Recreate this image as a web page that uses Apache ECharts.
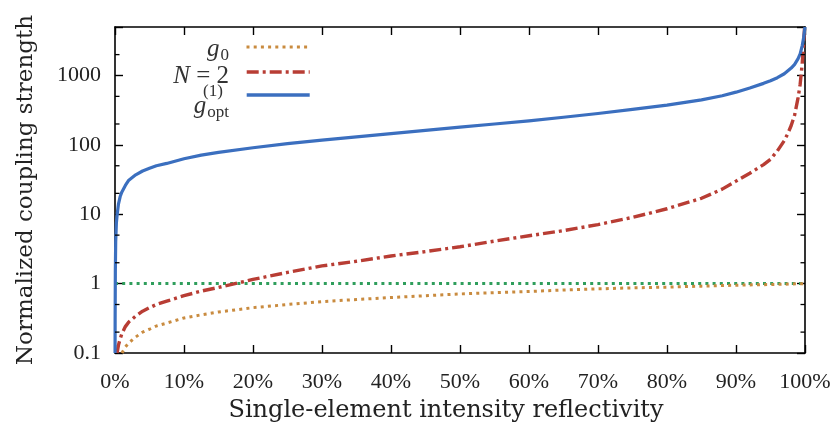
<!DOCTYPE html>
<html>
<head>
<meta charset="utf-8">
<script src="https://cdn.jsdelivr.net/npm/echarts@6/dist/echarts.min.js"></script>
<style>
html,body{margin:0;padding:0;background:#fff;}
#c{width:834px;height:428px;}
</style>
</head>
<body>
<div id="c"></div>
<script>
// ---- data (x in %, y normalized coupling strength) ----
var xG0   = [1, 1.5, 2, 3, 4, 5, 6, 7.5, 10, 12.5, 15, 20, 25, 30, 35, 40, 45, 50, 55, 60, 65, 70, 75, 80, 85, 90, 95, 100];
var yG0   = [0.10, 0.122, 0.14, 0.17, 0.20, 0.22, 0.245, 0.27, 0.32, 0.355, 0.39, 0.45, 0.50, 0.55, 0.59, 0.63, 0.67, 0.71, 0.74, 0.77, 0.81, 0.84, 0.87, 0.89, 0.92, 0.95, 0.97, 1.0];

var xN2   = [0.3, 0.5, 0.75, 1, 1.5, 2, 3, 4, 5, 6, 7.5, 10, 12.5, 15, 20, 25, 30, 35, 40, 45, 50, 55, 60, 65, 70, 75, 80, 85, 88, 90, 92, 93, 94, 95, 96, 97, 97.5, 98, 98.5, 99, 99.3, 99.6, 99.8, 100];
var yN2   = [0.10, 0.13, 0.16, 0.19, 0.24, 0.28, 0.34, 0.40, 0.45, 0.50, 0.56, 0.67, 0.78, 0.88, 1.15, 1.45, 1.8, 2.1, 2.5, 2.9, 3.4, 4.1, 4.9, 5.8, 7.1, 9.0, 12, 17, 23, 30, 39, 45, 52, 62, 82, 115, 145, 190, 270, 480, 750, 1500, 3000, 6000];

var xOpt  = [0.01, 0.02, 0.05, 0.1, 0.2, 0.3, 0.5, 0.75, 1, 1.5, 2, 3, 4, 5, 6, 7.5, 10, 12.5, 15, 20, 25, 30, 35, 40, 45, 50, 55, 60, 65, 70, 75, 80, 85, 88, 90, 92, 94, 95, 96, 97, 98, 98.5, 99, 99.3, 99.6, 99.8, 100];
var yOpt  = [0.1, 0.3, 1.5, 4, 7.5, 9.6, 14, 18, 21, 26, 31, 37, 42, 46, 50, 54, 63, 71, 78, 91, 104, 117, 130, 145, 162, 180, 200, 222, 250, 283, 325, 375, 445, 510, 575, 660, 770, 840, 930, 1060, 1280, 1450, 1750, 2050, 2700, 3500, 5000];

var xRef  = [0, 100];
var yRef  = [1, 1];

var xTickLabels = ['0%', '10%', '20%', '30%', '40%', '50%', '60%', '70%', '80%', '90%', '100%'];
var yTickLabels = ['0.1', '1', '10', '100', '1000'];
var yMinorTicks = [0.2, 0.5, 2, 5, 20, 50, 200, 500, 2000];

function pairs(xs, ys) { return xs.map(function (x, i) { return [x, ys[i]]; }); }

var SERIF = '"Liberation Serif", serif';
var SERIF_T = '"DejaVu Serif", serif';
var C_G0 = '#c98b3f', C_N2 = '#b83d34', C_OPT = '#3b6fbf', C_REF = '#2f9e5c';
var DOT = [3, 4.2], DASHDOT = [12, 4, 3, 4];

var chart = echarts.init(document.getElementById('c'), null, {renderer: 'canvas'});

var baseX = {
  type: 'value', min: 0, max: 100, interval: 10,
  axisLine: {show: true, onZero: false, lineStyle: {color: '#000', width: 1.6}},
  axisTick: {show: true, inside: true, length: 8, lineStyle: {color: '#000', width: 1.4}},
  splitLine: {show: false}
};
var baseY = {
  type: 'log', logBase: 10, min: 0.1, max: 5000,
  axisLine: {show: true, onZero: false, lineStyle: {color: '#000', width: 1.6}},
  axisTick: {show: true, inside: true, length: 8, lineStyle: {color: '#000', width: 1.4}},
  splitLine: {show: false}
};

function legendFor(name, top, width, type) {
  return {
    data: [name], left: 245, top: top, padding: 0,
    itemWidth: 63, itemHeight: 12,
    formatter: function () { return ''; }, selectedMode: false,
    itemStyle: {opacity: 0, borderWidth: 0},
    lineStyle: {width: width, type: type, cap: 'butt'}
  };
}

var option = {
  animation: false,
  backgroundColor: '#fff',
  grid: {left: 115, right: 29, top: 27, bottom: 74, containLabel: false},
  xAxis: [
    Object.assign({}, baseX, {
      position: 'bottom',
      name: 'Single-element intensity reflectivity',
      nameLocation: 'middle', nameGap: 46,
      nameTextStyle: {fontFamily: SERIF_T, fontSize: 24, color: '#222', padding: [0, 28, 0, 0]},
      axisLabel: {
        show: true, margin: 18, fontFamily: SERIF, fontSize: 22, color: '#222',
        formatter: function (v) { var i = Math.round(v / 10); return xTickLabels[i] || ''; }
      }
    }),
    Object.assign({}, baseX, {position: 'top', axisLabel: {show: false}})
  ],
  yAxis: [
    Object.assign({}, baseY, {
      position: 'left',
      name: 'Normalized coupling strength',
      nameLocation: 'middle', nameGap: 77,
      nameTextStyle: {fontFamily: SERIF_T, fontSize: 23, color: '#222'},
      axisLabel: {
        show: true, margin: 14, fontFamily: SERIF, fontSize: 22, color: '#222',
        formatter: function (v) {
          var e = Math.log10(v), r = Math.round(e);
          if (Math.abs(e - r) > 1e-6) return '';
          return yTickLabels[r + 1] || '';
        }
      }
    }),
    Object.assign({}, baseY, {position: 'right', axisLabel: {show: false}})
  ],
  legend: [
    legendFor('g0', 41, 3, DOT),
    legendFor('N = 2', 66, 3.4, DASHDOT),
    legendFor('gopt', 89, 3.4, 'solid')
  ],
  graphic: [
    {type: 'text', right: 834 - 229, top: 37, style: {
      text: '{g|g}{s|0}', align: 'right',
      rich: {g: {fontFamily: SERIF, fontStyle: 'italic', fontSize: 25, fill: '#333'},
             s: {fontFamily: SERIF, fontSize: 17, fill: '#333', padding: [12, 0, 0, 1]}}
    }},
    {type: 'text', right: 834 - 229, top: 64, style: {
      text: '{n|N} = 2', align: 'right',
      font: '25px ' + SERIF, fill: '#333',
      rich: {n: {fontFamily: SERIF, fontStyle: 'italic', fontSize: 25, fill: '#333'}}
    }},
    {type: 'text', left: 203, top: 83, style: {
      text: '(1)', font: '17px ' + SERIF, fill: '#333'
    }},
    {type: 'text', right: 834 - 229, top: 94, style: {
      text: '{g|g}{s|opt}', align: 'right',
      rich: {g: {fontFamily: SERIF, fontStyle: 'italic', fontSize: 25, fill: '#333'},
             s: {fontFamily: SERIF, fontSize: 17, fill: '#333', padding: [12, 0, 0, 1]}}
    }}
  ],
  series: [
    {
      name: 'ref', type: 'line', data: pairs(xRef, yRef), showSymbol: false, symbol: 'none',
      lineStyle: {color: C_REF, width: 3, type: DOT, cap: 'butt'}, z: 2, silent: true
    },
    {
      name: 'g0', type: 'line', data: pairs(xG0, yG0), showSymbol: false, symbol: 'none',
      color: C_G0,
      lineStyle: {color: C_G0, width: 3, type: DOT, cap: 'butt', join: 'round'}, z: 3
    },
    {
      name: 'N = 2', type: 'line', data: pairs(xN2, yN2), showSymbol: false, symbol: 'none',
      color: C_N2,
      lineStyle: {color: C_N2, width: 3.4, type: DASHDOT, cap: 'butt', join: 'round'}, z: 4
    },
    {
      name: 'gopt', type: 'line', data: pairs(xOpt, yOpt), showSymbol: false, symbol: 'none',
      color: C_OPT,
      lineStyle: {color: C_OPT, width: 3.2, join: 'round'}, z: 5
    },
    {
      name: 'minorTicks', type: 'custom', silent: true, z: 10,
      data: yMinorTicks.map(function (v) { return [0, v]; }),
      renderItem: function (params, api) {
        var l = api.coord([0, api.value(1)]);
        var r = api.coord([100, api.value(1)]);
        var st = {stroke: '#000', lineWidth: 1.3};
        return {type: 'group', children: [
          {type: 'line', shape: {x1: l[0], y1: l[1], x2: l[0] + 4.5, y2: l[1]}, style: st},
          {type: 'line', shape: {x1: r[0], y1: r[1], x2: r[0] - 4.5, y2: r[1]}, style: st}
        ]};
      }
    }
  ]
};
chart.setOption(option);
</script>
</body>
</html>
